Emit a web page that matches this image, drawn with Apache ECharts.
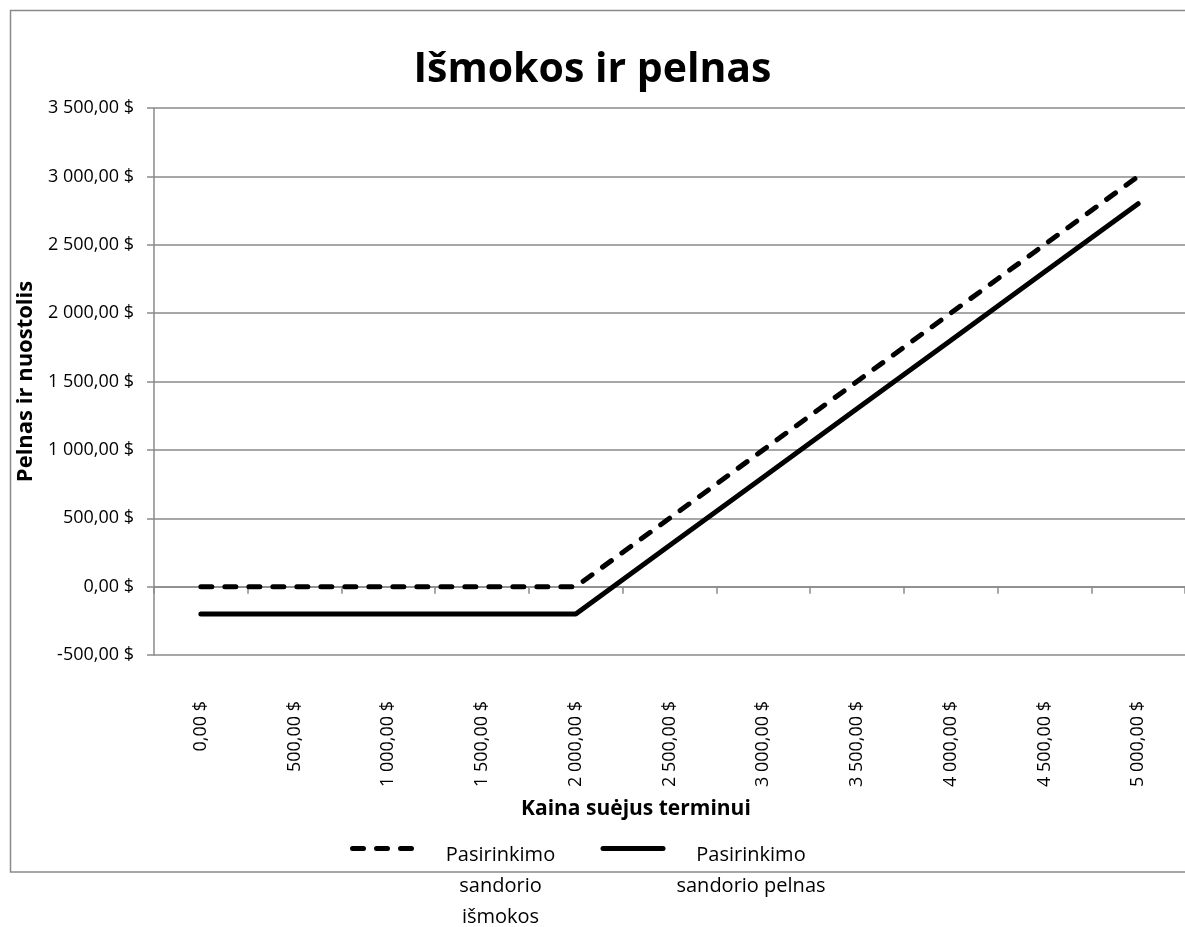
<!DOCTYPE html>
<html><head><meta charset="utf-8">
<script src="https://cdn.jsdelivr.net/npm/echarts@6/dist/echarts.min.js"></script>
<style>html,body{margin:0;padding:0;background:#fff}#c{width:1185px;height:927px}</style>
</head><body><div id="c"></div>
<script>
// ---- data ----
const prices = [0, 500, 1000, 1500, 2000, 2500, 3000, 3500, 4000, 4500, 5000];
const payoff = [0, 0, 0, 0, 0, 500, 1000, 1500, 2000, 2500, 3000];
const profit = [-200, -200, -200, -200, -200, 300, 800, 1300, 1800, 2300, 2800];
const seriesNames = ['Pasirinkimo sandorio išmokos', 'Pasirinkimo sandorio pelnas'];
const legendLines1 = ['Pasirinkimo', 'sandorio', 'išmokos'];
const legendLines2 = ['Pasirinkimo', 'sandorio pelnas'];
const yTicks = { min: -500, max: 3500, interval: 500 };
const chartTitle = 'Išmokos ir pelnas';
const xTitle = 'Kaina suėjus terminui';
const yTitle = 'Pelnas ir nuostolis';

function money(v) {
  v = Number(v);
  const neg = v < 0;
  const parts = Math.abs(v).toFixed(2).split('.');
  const intPart = parts[0].replace(/\B(?=(\d{3})+(?!\d))/g, ' ');
  return (neg ? '-' : '') + intPart + ',' + parts[1] + ' $';
}

const FONT = '"Open Sans", "Noto Sans", sans-serif';
const GRAY = '#8a8a8a';
const LH = 31;
const HIDE = 'rgba(0,0,0,0)';

function legendRich(lines) {
  return lines.map(l => '{a|' + l + '}').join('\n');
}

const chart = echarts.init(document.getElementById('c'), null, { renderer: 'canvas' });
chart.setOption({
  backgroundColor: '#fff',
  animation: false,
  textStyle: { fontFamily: FONT },
  graphic: [{
    type: 'rect', z: -10, silent: true,
    shape: { x: 10.5, y: 10.5, width: 1400, height: 861.5 },
    style: { fill: 'none', stroke: GRAY, lineWidth: 1.5 }
  }],
  title: [
    { text: chartTitle, left: 'center', top: 45,
      textStyle: { fontFamily: FONT, fontSize: 41, fontWeight: 'bold', color: '#000' } },
    { text: xTitle, left: 516, top: 794,
      textStyle: { fontFamily: FONT, fontSize: 21, fontWeight: 'bold', color: '#000' } }
  ],
  grid: { left: 154, top: 108, width: 1043, height: 547, containLabel: false },
  legend: {
    left: 350, top: 764, padding: 0,
    itemWidth: 60, itemHeight: 14, itemGap: 17,
    selectedMode: false,
    itemStyle: { color: HIDE, borderColor: HIDE, borderWidth: 0, opacity: 0 },
    lineStyle: { width: 5 },
    data: [
      { name: seriesNames[0], textStyle: { padding: [76, 0, 0, 0] } },
      { name: seriesNames[1], textStyle: { padding: [45, 0, 0, 0] } }
    ],
    formatter: function (name) {
      return legendRich(name === seriesNames[0] ? legendLines1 : legendLines2);
    },
    textStyle: {
      fontFamily: FONT, fontSize: 20, color: '#000', lineHeight: LH,
      rich: { a: { fontFamily: FONT, fontSize: 20, color: '#000', lineHeight: LH,
                   width: 166, align: 'center', backgroundColor: '#fff' } }
    }
  },
  xAxis: [
    {
      type: 'category', data: prices, boundaryGap: true, position: 'bottom',
      axisLine: { show: false, onZero: false },
      axisTick: { show: false },
      splitLine: { show: false },
      axisLabel: { rotate: 90, margin: 46, interval: 0, formatter: money,
                   fontFamily: FONT, fontSize: 18, color: '#000' }
    },
    {
      type: 'category', data: prices, boundaryGap: true, position: 'bottom',
      axisLine: { show: true, onZero: true, lineStyle: { color: GRAY, width: 1.5 } },
      axisTick: { show: true, length: 7, interval: 0, lineStyle: { color: GRAY, width: 1.5 } },
      axisLabel: { show: false },
      splitLine: { show: false }
    }
  ],
  yAxis: {
    type: 'value', min: yTicks.min, max: yTicks.max, interval: yTicks.interval,
    name: yTitle, nameLocation: 'middle', nameGap: 110, nameRotate: 90,
    nameTextStyle: { fontFamily: FONT, fontSize: 22, fontWeight: 'bold', color: '#000' },
    axisLine: { show: true, lineStyle: { color: GRAY, width: 1.5 } },
    axisTick: { show: true, length: 7, lineStyle: { color: GRAY, width: 1.5 } },
    splitLine: { show: true, lineStyle: { color: GRAY, width: 1.5 } },
    axisLabel: { margin: 20, formatter: money, fontFamily: FONT, fontSize: 18, color: '#000' }
  },
  series: [
    { name: seriesNames[0], type: 'line', data: payoff, xAxisIndex: 0,
      symbol: 'none', showSymbol: false,
      lineStyle: { color: '#000', width: 5, type: [11, 13], cap: 'round', join: 'round' },
      itemStyle: { color: '#000' } },
    { name: seriesNames[1], type: 'line', data: profit, xAxisIndex: 0,
      symbol: 'none', showSymbol: false,
      lineStyle: { color: '#000', width: 5, cap: 'round', join: 'round' },
      itemStyle: { color: '#000' } }
  ]
});
</script></body></html>
